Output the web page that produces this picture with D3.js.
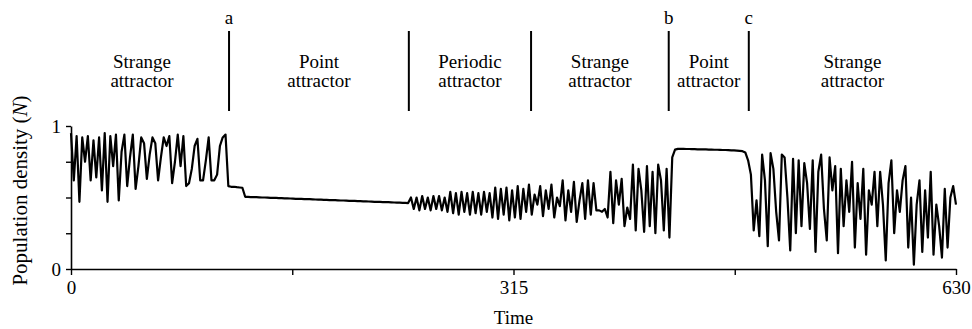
<!DOCTYPE html>
<html>
<head>
<meta charset="utf-8">
<script src="https://cdn.jsdelivr.net/npm/d3@7"></script>
<style>
  body { margin: 0; background: #fff; }
  .serif { font-family: "Liberation Serif", serif; }
</style>
</head>
<body>
<div id="chart"></div>
<script>
// Population density, one census every 2 time units (0..630)
const timeStep = 2;
const density = [
  // strange attractor, t 0..112
  0.95, 0.62, 0.93, 0.47, 0.92, 0.75, 0.93, 0.62, 0.90, 0.64,
  0.92, 0.55, 0.95, 0.47, 0.93, 0.72, 0.94, 0.48, 0.82, 0.94,
  0.58, 0.78, 0.94, 0.56, 0.72, 0.92, 0.88, 0.63, 0.80, 0.92,
  0.88, 0.62, 0.78, 0.92, 0.86, 0.93, 0.60, 0.75, 0.94, 0.72,
  0.93, 0.58, 0.60, 0.70, 0.86, 0.91, 0.62, 0.62, 0.76, 0.92,
  0.62, 0.62, 0.66, 0.86, 0.92, 0.94, 0.58,
  // point attractor, t 114..240
  0.575, 0.575, 0.572, 0.570, 0.568, 0.505,
  0.504, 0.503, 0.503, 0.502, 0.501, 0.500, 0.500, 0.499, 0.498, 0.497,
  0.497, 0.496, 0.495, 0.494, 0.494, 0.493, 0.492, 0.491, 0.491, 0.490,
  0.489, 0.488, 0.488, 0.487, 0.486, 0.485, 0.485, 0.484, 0.483, 0.482,
  0.482, 0.481, 0.480, 0.479, 0.479, 0.478, 0.477, 0.476, 0.476, 0.475,
  0.474, 0.473, 0.473, 0.472, 0.471, 0.470, 0.470, 0.469, 0.468, 0.467,
  0.467, 0.466, 0.465, 0.464, 0.464, 0.463, 0.462, 0.461,
  // periodic attractor, t 242..326
  0.50, 0.42, 0.50, 0.41, 0.51, 0.42, 0.50, 0.41, 0.51, 0.42, 0.51, 0.41, 0.50, 0.40,
  0.54, 0.39, 0.53, 0.38, 0.54, 0.40, 0.53, 0.38, 0.54, 0.39, 0.53, 0.38, 0.54, 0.40, 0.53,
  0.36, 0.57, 0.35, 0.56, 0.38, 0.57, 0.34, 0.55, 0.36, 0.58, 0.35, 0.56, 0.40, 0.59,
  // strange attractor, t 328..426
  0.38, 0.52, 0.45, 0.58, 0.37, 0.55, 0.42, 0.59, 0.36, 0.50, 0.44,
  0.62, 0.34, 0.55, 0.40, 0.61, 0.33, 0.48, 0.60, 0.35, 0.62, 0.38, 0.60,
  0.41, 0.41, 0.40, 0.42,
  0.36, 0.68, 0.32, 0.62, 0.45, 0.63, 0.30, 0.43,
  0.35, 0.73, 0.27, 0.70, 0.55, 0.26, 0.72, 0.30, 0.68, 0.25, 0.73, 0.62, 0.27, 0.70,
  0.22,
  // point attractor, t 428..482
  0.78, 0.835, 0.840, 0.840, 0.840, 0.839, 0.839, 0.838, 0.838, 0.837,
  0.837, 0.836, 0.836, 0.835, 0.835, 0.834, 0.834, 0.833, 0.832, 0.832,
  0.831, 0.830, 0.829, 0.828, 0.826, 0.824, 0.815, 0.76,
  // strange attractor, t 484..630
  0.66, 0.27, 0.48, 0.23, 0.80, 0.62, 0.16, 0.81, 0.70, 0.40, 0.20, 0.80, 0.78, 0.50, 0.13,
  0.77, 0.25, 0.76, 0.30, 0.74, 0.60, 0.28, 0.76, 0.12, 0.68, 0.80, 0.42, 0.20, 0.78, 0.55,
  0.72, 0.11, 0.70, 0.30, 0.62, 0.40, 0.75, 0.15, 0.60, 0.35, 0.70, 0.10, 0.55, 0.45, 0.68,
  0.30, 0.68, 0.45, 0.06, 0.60, 0.76, 0.25, 0.55, 0.40, 0.62, 0.72, 0.15, 0.50, 0.03, 0.45,
  0.62, 0.12, 0.55, 0.22, 0.68, 0.10, 0.45, 0.30, 0.08, 0.56, 0.15, 0.50, 0.58, 0.45
];

// Where the dynamics switch, and the letters printed over some of the switches
const regimeBreaks = [112.5, 240.5, 327.5, 425.5, 482.5];
const breakLetters = ["a", "", "", "b", "c"];
const regimeNames = [
  ["Strange", "attractor"], ["Point", "attractor"], ["Periodic", "attractor"],
  ["Strange", "attractor"], ["Point", "attractor"], ["Strange", "attractor"]
];

const xTicks = [0, 157.5, 315, 472.5, 630];
const xTickLabels = ["0", "", "315", "", "630"];
const yTicks = [0, 0.25, 0.5, 0.75, 1];
const yTickLabels = ["0", "", "", "", "1"];

const width = 972, height = 329;
const margin = {left: 71, right: 16, top: 126, bottom: 60};

function draw() {
    const svg = d3.select("#chart").append("svg")
        .attr("width", width)
        .attr("height", height)
        .attr("font-family", "Liberation Serif");

    const x = d3.scaleLinear().domain([0, 630]).range([margin.left, width - margin.right]);
    const y = d3.scaleLinear().domain([0, 1]).range([height - margin.bottom, margin.top]);

    // axes
    const xAxis = svg.append("g")
        .attr("transform", `translate(0,${y(0)})`)
        .call(d3.axisBottom(x).tickValues(xTicks).tickSize(6).tickSizeOuter(0)
            .tickPadding(6).tickFormat((d, i) => xTickLabels[i]));

    const yAxis = svg.append("g")
        .attr("transform", `translate(${x(0)},0)`)
        .call(d3.axisLeft(y).tickValues(yTicks).tickSize(5).tickSizeOuter(0)
            .tickPadding(5).tickFormat((d, i) => yTickLabels[i]));

    [xAxis, yAxis].forEach(g => {
        g.attr("font-family", "Liberation Serif").attr("font-size", 19);
        g.select(".domain").attr("stroke", "#000").attr("stroke-width", 1.6);
        g.selectAll(".tick line").attr("stroke", "#000").attr("stroke-width", 1.4);
        g.selectAll(".tick text").attr("class", "serif").attr("fill", "#000");
    });

    // the time series
    const line = d3.line()
        .x((d, i) => x(i * timeStep))
        .y(d => y(d));

    svg.append("path")
        .datum(density)
        .attr("d", line)
        .attr("fill", "none")
        .attr("stroke", "#000")
        .attr("stroke-width", 2.2)
        .attr("stroke-linejoin", "round");

    // regime dividers and letters
    svg.append("g").selectAll("line")
        .data(regimeBreaks)
        .enter().append("line")
        .attr("x1", d => x(d)).attr("x2", d => x(d))
        .attr("y1", 31).attr("y2", 111)
        .attr("stroke", "#000")
        .attr("stroke-width", 2);

    svg.append("g").selectAll("text")
        .data(regimeBreaks)
        .enter().append("text")
        .attr("class", "serif")
        .attr("x", d => x(d))
        .attr("y", 24)
        .attr("text-anchor", "middle")
        .attr("font-size", 19)
        .text((d, i) => breakLetters[i]);

    // regime labels, centred between dividers
    const edges = [0, ...regimeBreaks, 630];
    const labels = svg.append("g").selectAll("text")
        .data(regimeNames)
        .enter().append("text")
        .attr("class", "serif")
        .attr("text-anchor", "middle")
        .attr("font-size", 19);

    labels.each(function(d, i) {
        const cx = i === 0 ? x(edges[1]) - 87 : (x(edges[i]) + x(edges[i + 1])) / 2;
        d3.select(this).selectAll("tspan")
            .data(d)
            .enter().append("tspan")
            .attr("x", cx)
            .attr("y", (s, j) => 68 + j * 19)
            .text(s => s);
    });

    // axis titles
    svg.append("text")
        .attr("class", "serif")
        .attr("x", x(315))
        .attr("y", 324)
        .attr("text-anchor", "middle")
        .attr("font-size", 19)
        .text("Time");

    const yTitle = svg.append("text")
        .attr("class", "serif")
        .attr("transform", `translate(27,${(y(0) + y(1)) / 2 - 7}) rotate(-90)`)
        .attr("text-anchor", "middle")
        .attr("font-size", 21);
    yTitle.append("tspan").text("Population density (");
    yTitle.append("tspan").attr("font-style", "italic").text("N");
    yTitle.append("tspan").text(")");
}

// make sure the serif face is ready before any text is laid out
Promise.all([
    document.fonts.load('19px "Liberation Serif"'),
    document.fonts.load('italic 21px "Liberation Serif"')
]).then(draw, draw);
</script>
</body>
</html>
